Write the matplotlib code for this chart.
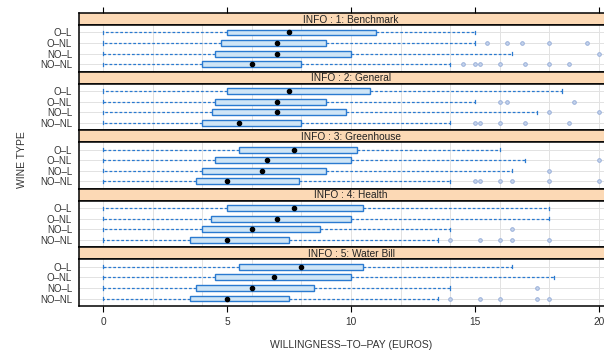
import matplotlib
matplotlib.use('Agg')
import matplotlib.pyplot as plt

plt.rcParams['font.family'] = ['Liberation Sans', 'DejaVu Sans']

#%% data

panels = ['INFO : 1: Benchmark', 'INFO : 2: General', 'INFO : 3: Greenhouse',
          'INFO : 4: Health', 'INFO : 5: Water Bill']
wine_types = ['O\u2013L', 'O\u2013NL', 'NO\u2013L', 'NO\u2013NL']

whislo = [[0, 0, 0, 0]] * 5
q1 = [[5, 4.75, 4.5, 4], [5, 4.5, 4.4, 4], [5.5, 4.5, 4, 3.75],
      [5, 4.35, 4, 3.5], [5.5, 4.5, 3.75, 3.5]]
med = [[7.5, 7, 7, 6], [7.5, 7, 7, 5.5], [7.7, 6.6, 6.4, 5],
       [7.7, 7, 6, 5], [8, 6.9, 6, 5]]
q3 = [[11, 9, 10, 8], [10.75, 9, 9.8, 8], [10.25, 10, 9, 7.9],
      [10.5, 10, 8.75, 7.5], [10.5, 10, 8.5, 7.5]]
whishi = [[15, 15, 16.5, 14], [18.5, 15, 17.5, 14], [16, 17, 16.5, 14],
          [18, 18, 14, 13.5], [16.5, 18.2, 14, 13.5]]
fliers = [
    [[], [15.5, 16.3, 16.9, 18, 19.5], [20], [14.5, 15, 15.2, 16, 17, 18, 18.8]],
    [[], [16, 16.3, 19], [18, 20], [15, 15.2, 16, 17, 18.8]],
    [[], [20], [18], [15, 15.2, 16, 16.5, 18, 20]],
    [[], [], [16.5], [14, 15.2, 16, 16.5, 18]],
    [[], [], [17.5], [14, 15.2, 16, 17.5, 18]],
]
xticks = [0, 5, 10, 15, 20]

#%% layout (pixels of a 604x351 image)

W, H = 604, 351
ax_l, ax_r = 79, 623
top, block, strip_h = 13, 58.6, 12

edge = '#2a7ad0'
fill = '#cfe5f6'
strip_col = '#fcd9b5'
flier_col = '#98afd9'
txt_col = '#333333'

fig = plt.figure(figsize=(W / 100, H / 100), dpi=100)

for i, name in enumerate(panels):
    y0 = top + i * block
    # strip
    sax = fig.add_axes([ax_l / W, 1 - (y0 + strip_h) / H, (ax_r - ax_l) / W, strip_h / H])
    sax.set_facecolor(strip_col)
    sax.set_xticks([])
    sax.set_yticks([])
    for s in sax.spines.values():
        s.set_linewidth(1.1)
    sax.text(0.5, 0.45, name, ha='center', va='center', fontsize=7.3,
             color='#222222', transform=sax.transAxes)
    if i == 0:
        sax.set_xlim(-0.97, 20.97)
        sax.set_xticks(xticks)
        sax.tick_params(axis='x', top=True, bottom=False, labeltop=False,
                        labelbottom=False, length=4, width=0.8)

    # panel
    ax = fig.add_axes([ax_l / W, 1 - (y0 + block) / H, (ax_r - ax_l) / W,
                       (block - strip_h) / H])
    stats = []
    for j in range(4):
        stats.append(dict(whislo=whislo[i][j], q1=q1[i][j], med=med[i][j],
                          q3=q3[i][j], whishi=whishi[i][j], fliers=fliers[i][j]))
    pos = [4, 3, 2, 1]
    for x in range(0, 21, 2):
        ax.axvline(x, color='#e2e2e2', lw=0.7, zorder=0)
    for p in pos:
        ax.axhline(p, color='#e2e2e2', lw=0.7, zorder=0)
    ax.bxp(stats, positions=pos, orientation='horizontal', widths=0.55,
           patch_artist=True, showfliers=True, capwidths=0.3,
           boxprops=dict(facecolor=fill, edgecolor=edge, linewidth=1.0),
           whiskerprops=dict(color=edge, linestyle=(0, (2.2, 1.6)), linewidth=0.9),
           capprops=dict(color=edge, linewidth=0.9),
           medianprops=dict(visible=False),
           flierprops=dict(marker='o', markersize=2.6, markerfacecolor='#c5d3ec',
                           markeredgecolor=flier_col, markeredgewidth=0.7))
    ax.scatter(med[i], pos, s=9, color='black', zorder=5)
    ax.set_xlim(-0.97, 20.97)
    ax.set_ylim(0.3, 4.7)
    ax.set_yticks(pos)
    ax.set_yticklabels(wine_types, fontsize=7, color=txt_col)
    ax.tick_params(axis='y', length=0, pad=5)
    for s in ax.spines.values():
        s.set_linewidth(1.1)
    if i == len(panels) - 1:
        ax.set_xticks(xticks)
        ax.set_xticklabels([str(t) for t in xticks], fontsize=7.3, color=txt_col)
        ax.tick_params(axis='x', length=4, width=0.8, pad=4)
    else:
        ax.set_xticks([])

fig.text(22 / W, 1 - 160 / H, 'WINE TYPE', rotation=90, ha='center', va='center',
         fontsize=7.5, color=txt_col)
fig.text((ax_l + ax_r) / 2 / W, 1 - 345 / H, 'WILLINGNESS\u2013TO\u2013PAY (EUROS)',
         ha='center', va='center', fontsize=7.5, color=txt_col)

fig.savefig('out.png', dpi=100)
